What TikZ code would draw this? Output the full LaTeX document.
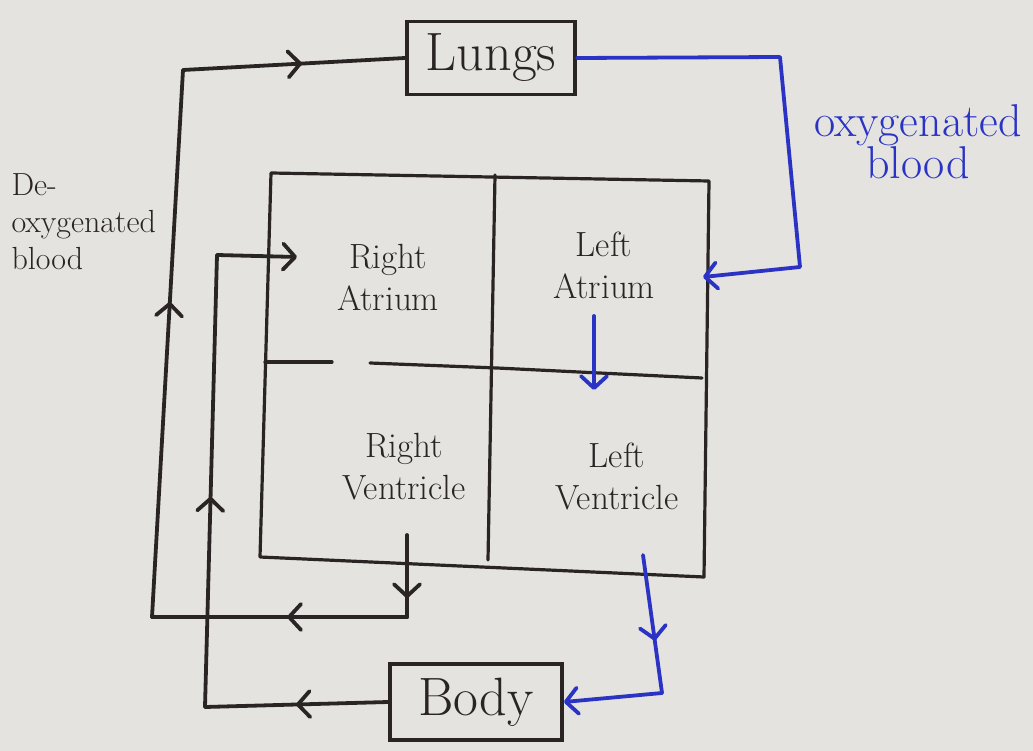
\documentclass[tikz,border=0pt]{standalone}
\usetikzlibrary{arrows.meta,decorations.markings}
\definecolor{paper}{HTML}{E4E3E0}
\definecolor{ink}{HTML}{2A2524}
\definecolor{pen}{HTML}{2A33C4}
\tikzset{
  barb/.tip={Straight Barb[length=12pt,width=26pt,line width=3.8pt,round]},
  flow/.style={line width=3.8pt, line cap=round, line join=round, color=ink},
  blueflow/.style={flow, color=pen},
  tipend/.style={-barb},
  midtip/.style={postaction={decorate},
    decoration={markings, mark=at position #1 with {\arrow{barb}}}},
  organ/.style={draw=ink, line width=3.8pt, rectangle, inner sep=0pt,
    font=\fontsize{54}{58}\selectfont, text=ink},
  chamber/.style={align=center, font=\fontsize{35}{42}\selectfont, text=ink},
  wall/.style={draw=ink, line width=3.2pt, line cap=round, line join=round},
}
\begin{document}
\begin{tikzpicture}[x=1pt, y=-1pt]
\fill[paper] (0,0) rectangle (1033,751);
\useasboundingbox (0,0) rectangle (1033,751);

% organs
\node[organ, minimum width=168pt, minimum height=73pt] (lungs) at (491,58) {Lungs};
\node[organ, minimum width=172pt, minimum height=76pt] (body) at (476,702) {Body};

% heart outline
\coordinate (h-tl) at (271,173);
\coordinate (h-tr) at (709,181);
\coordinate (h-br) at (704,577);
\coordinate (h-bl) at (260,557);
\draw[wall] (h-tl) -- (h-tr) -- (h-br) -- (h-bl) -- cycle;
\coordinate (d-top) at (495,175);
\coordinate (d-bot) at (488,560);
\draw[wall] (d-top) -- (d-bot);
\coordinate (m1) at (265,362);
\coordinate (m2) at (332,362);
\coordinate (m3) at (370,363);
\coordinate (m4) at (497,368);
\coordinate (m5) at (702,378);
\draw[wall] (m1) -- (m2);
\draw[wall] (m3) -- (m4) -- (m5);

% chambers
\node[chamber] (ra) at (388,277) {Right\\Atrium};
\node[chamber] (la) at (604,265) {Left\\Atrium};
\node[chamber] (rv) at (404,467) {Right\\Ventricle};
\node[chamber] (lv) at (617,476) {Left\\Ventricle};

% labels
\node[text=ink, align=left, anchor=west, font=\fontsize{32}{37}\selectfont] (deoxy) at (8,222) {De-\\oxygenated\\blood};
\node[text=pen, align=center, font=\fontsize{46}{42}\selectfont] (oxy) at (918,142) {oxygenated\\blood};

% deoxygenated circuit: right ventricle -> lungs
\coordinate (rv-out) at (407,535);
\coordinate (c-rv) at (407,617);
\coordinate (c-ll) at (152,617);
\coordinate (c-lu) at (183,70);
\draw[flow, midtip=0.77] (rv-out) -- (c-rv);
\draw[flow, midtip=0.47] (c-rv) -- (c-ll);
\draw[flow, midtip=0.576] (c-ll) -- (c-lu);
\draw[flow, midtip=0.536] (c-lu) -- (lungs.west);

% body -> right atrium
\coordinate (c-bl) at (205,707);
\coordinate (c-bu) at (217,255);
\coordinate (ra-in) at (297,257);
\draw[flow, midtip=0.503] (body.west) -- (c-bl);
\draw[flow, midtip=0.465] (c-bl) -- (c-bu);
\draw[flow, tipend] (c-bu) -- (ra-in);

% oxygenated circuit
\coordinate (b1) at (780,57);
\coordinate (b2) at (800,267);
\coordinate (la-in) at (703,277);
\draw[blueflow, tipend] (lungs.east) -- (b1) -- (b2) -- (la-in);
\coordinate (la-out) at (594,316);
\coordinate (lv-in) at (594,390);
\draw[blueflow, tipend] (la-out) -- (lv-in);
\coordinate (lv-out) at (643,555);
\coordinate (b3) at (662,693);
\draw[blueflow, midtip=0.62] (lv-out) -- (b3);
\draw[blueflow, tipend] (b3) -- (body.east);
\end{tikzpicture}
\end{document}
